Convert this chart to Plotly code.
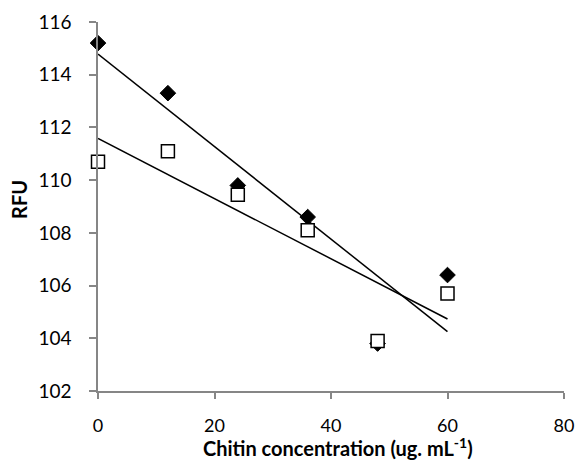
import numpy as np
import plotly.graph_objects as go

# Chitin concentration (ug/mL) and fluorescence readings
concentration = [0, 12, 24, 36, 48, 60]
rfu_filled = [115.2, 113.3, 109.8, 108.6, 103.8, 106.4]
rfu_open = [110.7, 111.1, 109.45, 108.1, 103.9, 105.7]

x_ticks = [0, 20, 40, 60, 80]
y_ticks = [102, 104, 106, 108, 110, 112, 114, 116]

FONT = "Lato"
AXIS_GREY = "#868686"

fig = go.Figure()

# Linear trendlines fitted to each series
x_arr = np.array(concentration, dtype=float)
x_line = np.array([x_arr.min(), x_arr.max()])
for series in (rfu_filled, rfu_open):
    slope, intercept = np.polyfit(x_arr, np.array(series), 1)
    fig.add_trace(go.Scatter(
        x=x_line, y=slope * x_line + intercept, mode="lines",
        line=dict(color="black", width=1.5), showlegend=False, hoverinfo="skip",
        cliponaxis=False,
    ))

fig.add_trace(go.Scatter(
    x=concentration, y=rfu_filled, mode="markers",
    marker=dict(symbol="diamond", size=12, color="black",
                line=dict(color="black", width=1)),
    showlegend=False, cliponaxis=False,
))
fig.add_trace(go.Scatter(
    x=concentration, y=rfu_open, mode="markers",
    marker=dict(symbol="square", size=13, color="white",
                line=dict(color="black", width=1.5)),
    showlegend=False, cliponaxis=False,
))

fig.update_xaxes(
    range=[0, 80], tickvals=x_ticks, ticktext=[str(v) for v in x_ticks],
    showgrid=False, zeroline=False, showline=True, linecolor=AXIS_GREY, linewidth=1.5,
    ticks="outside", ticklen=6, tickwidth=1.5, tickcolor=AXIS_GREY,
    tickfont=dict(family=FONT, size=18, color="black"), ticklabelstandoff=12,
    ticklabeloverflow="allow", automargin=False,
)
fig.update_yaxes(
    range=[102, 116], tickvals=y_ticks, ticktext=[str(v) for v in y_ticks],
    showgrid=False, zeroline=False, showline=True, linecolor=AXIS_GREY, linewidth=1.5,
    ticks="outside", ticklen=7, tickwidth=1.5, tickcolor=AXIS_GREY,
    tickfont=dict(family=FONT, size=19, color="black"), ticklabelstandoff=14,
    automargin=False,
)

fig.add_annotation(
    text="<b>Chitin concentration (ug. mL<sup>-1</sup>)</b>",
    xref="paper", yref="paper", x=0.515, y=-0.152, yanchor="middle",
    showarrow=False, font=dict(family=FONT, size=20, color="black"),
)
fig.add_annotation(
    text="<b>RFU</b>",
    xref="paper", yref="paper", x=-0.17, y=0.52, xanchor="center", yanchor="middle",
    textangle=-90, showarrow=False, font=dict(family=FONT, size=20, color="black"),
)

fig.update_layout(
    width=575, height=472,
    margin=dict(l=98, r=11, t=22, b=81),
    paper_bgcolor="white", plot_bgcolor="white",
)

fig.write_html("out.html")
